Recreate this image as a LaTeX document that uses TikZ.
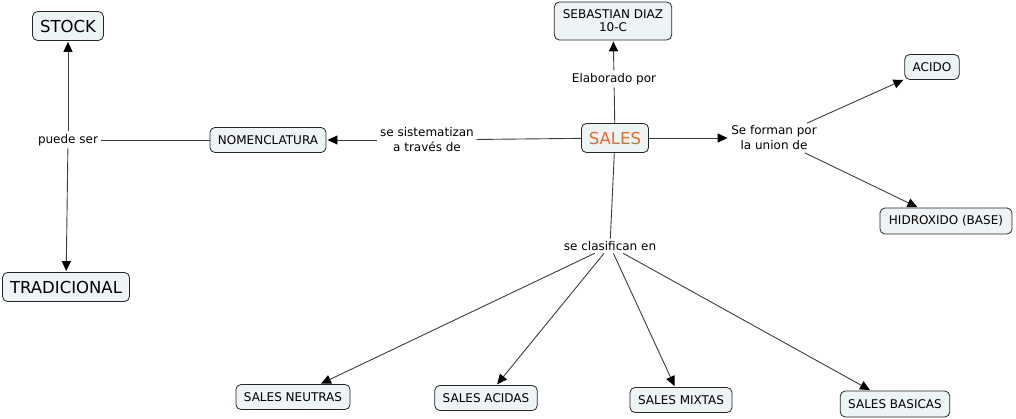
\documentclass[tikz,border=0pt]{standalone}
\usepackage{fontspec}
\setmainfont{DejaVu Sans}
\usetikzlibrary{arrows.meta}
\definecolor{nodefill}{RGB}{238,243,245}
\definecolor{salesorange}{RGB}{237,106,35}
\definecolor{linegray}{RGB}{60,60,60}
\begin{document}
\begin{tikzpicture}[x=1pt,y=-1pt,
  concept/.style={draw=black!85, fill=nodefill, rounded corners=5pt, line width=0.8pt,
    inner xsep=8pt, inner ysep=3pt, minimum height=25pt, align=center,
    font=\fontsize{12}{13}\selectfont},
  bigconcept/.style={concept, minimum height=29pt, inner xsep=7.5pt, font=\fontsize{16.5}{18}\selectfont},
  linklabel/.style={inner sep=2.5pt, align=center, fill=white, font=\fontsize{12}{15}\selectfont},
  conn/.style={draw=linegray, line width=0.9pt},
  arr/.style={conn, -{Triangle[length=10pt,width=9pt,color=black]}, shorten >=1pt}
]
\useasboundingbox (0,0) rectangle (1016,419);

% concepts
\node[bigconcept] (stock) at (68,26) {STOCK};
\node[bigconcept] (trad) at (66,287) {TRADICIONAL};
\node[concept] (nomen) at (268,140) {NOMENCLATURA};
\node[bigconcept, inner xsep=7.5pt, text=salesorange] (sales) at (615,138) {SALES};
\node[concept, minimum height=38pt, inner xsep=8.5pt] (seb) at (613,21) {SEBASTIAN DIAZ\\10-C};
\node[concept] (acido) at (932,67) {ACIDO};
\node[concept, minimum height=26pt, inner xsep=9pt] (hidro) at (946,221) {HIDROXIDO (BASE)};
\node[concept] (neutras) at (293,397) {SALES NEUTRAS};
\node[concept] (acidas) at (486,398) {SALES ACIDAS};
\node[concept] (mixtas) at (681,400) {SALES MIXTAS};
\node[concept, minimum height=26pt] (basicas) at (895,404) {SALES BASICAS};

% link labels
\node[linklabel] (puede) at (68,140) {puede ser};
\node[linklabel] (sist) at (427,140) {se sistematizan\\a través de};
\node[linklabel] (elab) at (614,79) {Elaborado por};
\node[linklabel] (forman) at (774,138) {Se forman por\\la union de};
\node[linklabel] (clasif) at (610,246) {se clasifican en};

% connectors
\draw[conn] (nomen) -- (puede);
\draw[arr] (puede) -- (stock);
\draw[arr] (puede) -- (trad);

\draw[conn] (sales) -- (sist);
\draw[arr] (sist) -- (nomen);

\draw[conn] (sales) -- (elab);
\draw[arr] (elab) -- (seb);

\draw[arr] (sales) -- (forman);
\draw[arr] (forman) -- (acido);
\draw[arr] (forman) -- (hidro);

\draw[conn] (sales) -- (clasif);
\draw[arr] (clasif) -- (neutras);
\draw[arr] (clasif) -- (acidas);
\draw[arr] (clasif) -- (mixtas);
\draw[arr] (clasif) -- (basicas);
\end{tikzpicture}
\end{document}
